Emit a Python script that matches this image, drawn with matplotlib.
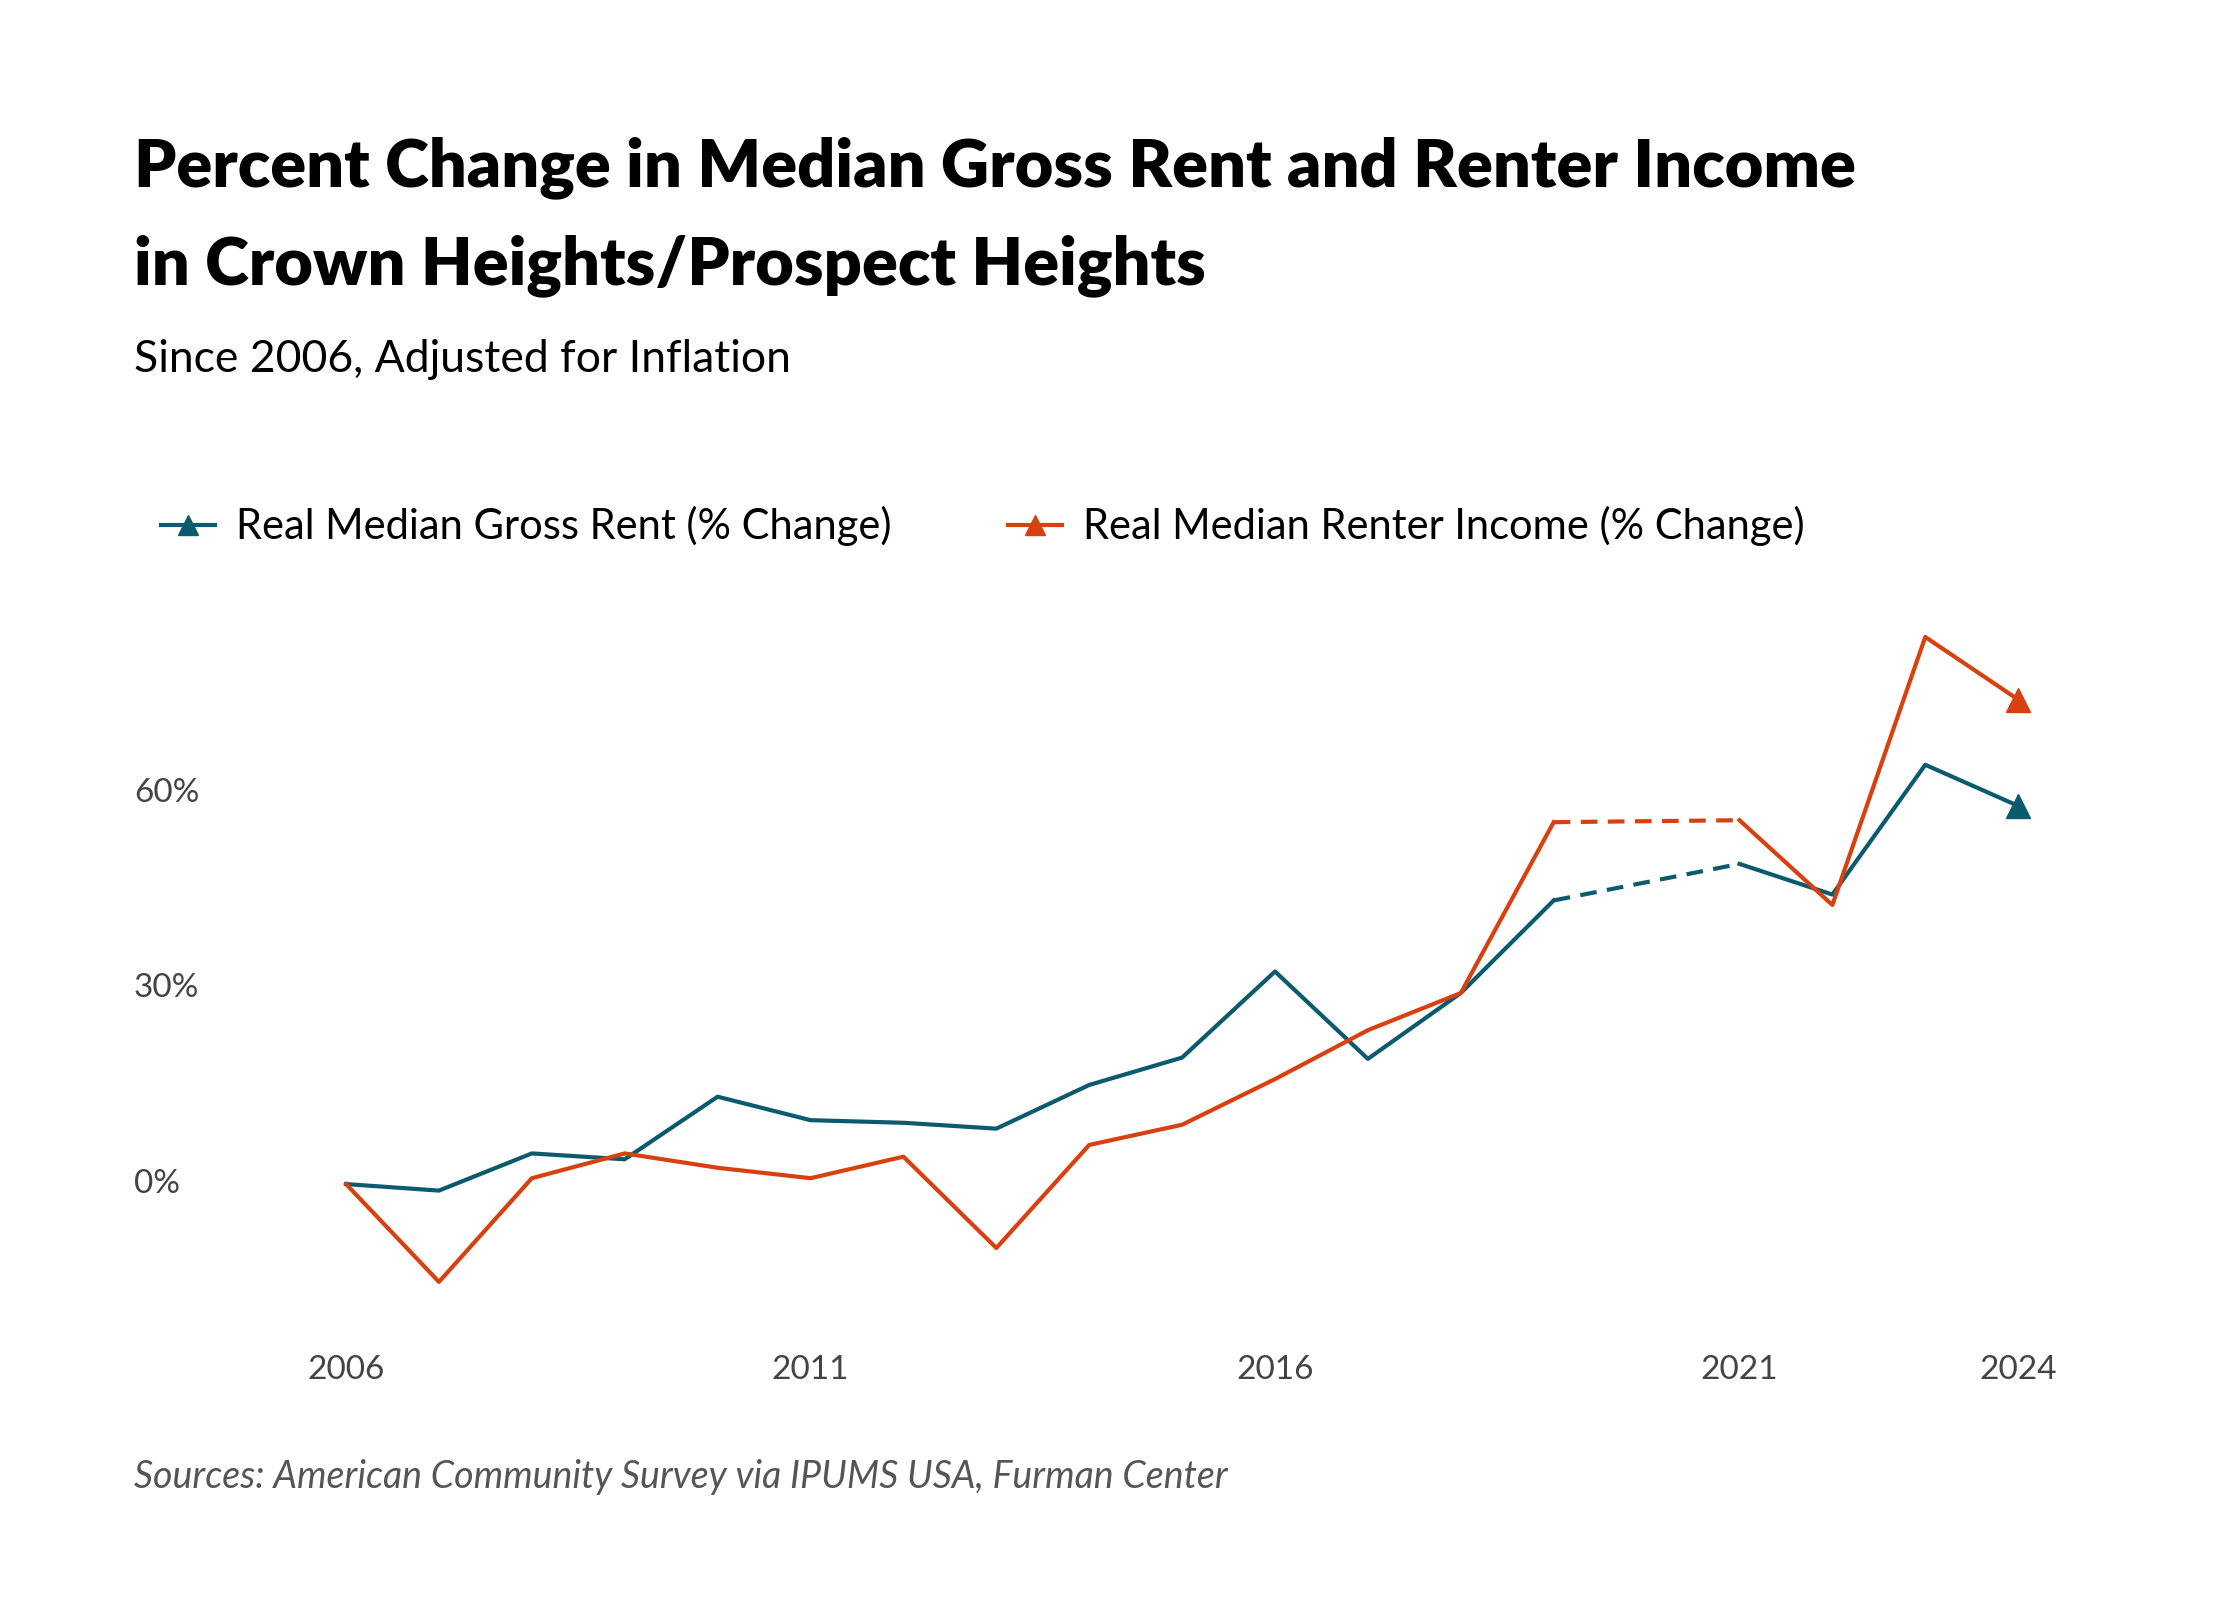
import matplotlib
matplotlib.use("Agg")
import matplotlib.pyplot as plt
import numpy as np

years = [2006, 2007, 2008, 2009, 2010, 2011, 2012, 2013, 2014, 2015, 2016, 2017, 2018, 2019, 2021, 2022, 2023, 2024]
rent = [0, -1, 4.7, 3.8, 13.4, 9.8, 9.4, 8.5, 15.2, 19.4, 32.6, 19.2, 29.3, 43.5, 49.1, 44.4, 64.3, 58.0]
income = [0, -15, 0.9, 4.7, 2.5, 0.9, 4.2, -9.8, 6.0, 9.1, 16.1, 23.6, 29.3, 55.5, 55.8, 42.8, 83.9, 74.3]
xticks = [2006, 2011, 2016, 2021, 2024]
yticks = [0, 30, 60]
gap_from, gap_to = 2019, 2021

c_rent = "#0b5a6e"
c_inc = "#d9400f"
plt.rcParams['font.family'] = ['Lato', 'DejaVu Sans']

fig = plt.figure(figsize=(22.4, 16), dpi=100)
ax = fig.add_axes([0.09, 0.176, 0.84, 0.454])
ax.set_xlim(2004.445, 2024.7)
ax.set_ylim(-20.6, 90.8)

def draw(vals, color, label):
    y = np.array(years); v = np.array(vals, float)
    i = years.index(gap_from)
    ax.plot(y[:i+1], v[:i+1], color=color, lw=3)
    ax.plot(y[i:i+2], v[i:i+2], color=color, lw=3, ls=(0, (4, 2.5)))
    ax.plot(y[i+1:], v[i+1:], color=color, lw=3)
    ax.plot(y[-1], v[-1], marker='^', color=color, ms=17, ls='none')
    ax.plot([], [], color=color, lw=3, marker='^', ms=15, label=label)

draw(rent, c_rent, "Real Median Gross Rent (% Change)")
draw(income, c_inc, "Real Median Renter Income (% Change)")

for s in ax.spines.values():
    s.set_visible(False)
ax.set_yticks([])
ax.set_xticks(xticks)
ax.set_xticklabels([str(t) for t in xticks], fontsize=24, color="#444444")
ax.tick_params(axis='x', length=0, pad=26)
for t in yticks:
    ax.text(-0.036, t, f"{t}%", transform=ax.get_yaxis_transform(), fontsize=24,
            color="#444444", ha='left', va='center')

fig.text(0.06, 0.895, "Percent Change in Median Gross Rent and Renter Income",
         fontsize=48, fontweight='heavy', ha='left', va='center')
fig.text(0.06, 0.834, "in Crown Heights/Prospect Heights",
         fontsize=48, fontweight='heavy', ha='left', va='center')
fig.text(0.06, 0.775, "Since 2006, Adjusted for Inflation", fontsize=32, ha='left', va='center')
ax.legend(loc='lower left', bbox_to_anchor=(0.055, 0.635), bbox_transform=fig.transFigure,
          ncol=2, frameon=False, fontsize=30, handlelength=1.3, columnspacing=2.8,
          handletextpad=0.5)
fig.text(0.06, 0.077, "Sources: American Community Survey via IPUMS USA, Furman Center",
         fontsize=27, style='italic', color="#555555", ha='left', va='center')
fig.savefig("out.png", dpi=100)
